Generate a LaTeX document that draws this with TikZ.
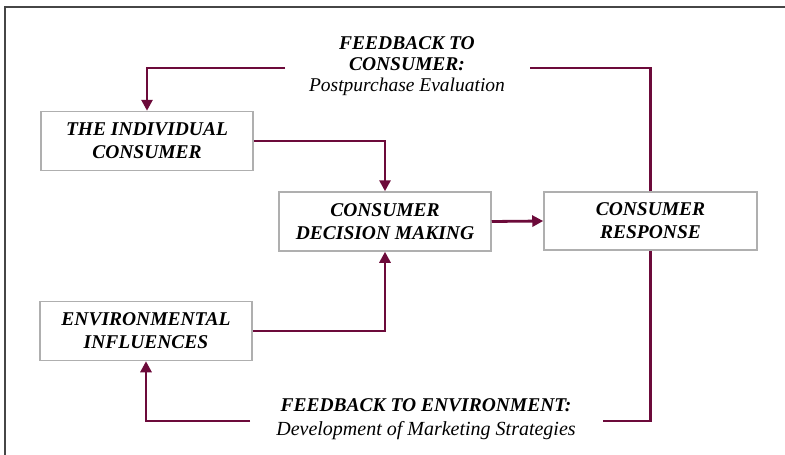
\documentclass[tikz,border=0pt]{standalone}
\usepackage{fontspec}
\setmainfont{Liberation Serif}
\usetikzlibrary{arrows.meta}
\definecolor{flow}{RGB}{108,10,58}
\definecolor{boxline}{RGB}{175,175,175}
\definecolor{frameline}{RGB}{70,70,70}
\begin{document}
\begin{tikzpicture}[x=1pt,y=-1pt,
  stagebox/.style={draw=boxline,line width=1.5pt,fill=white,minimum width=212pt,minimum height=59pt,inner sep=0pt,align=center,
    font=\fontsize{19.5}{23}\selectfont\bfseries\itshape},
  flowline/.style={draw=flow,line width=2.8pt},
  flowarrow/.style={flowline,-{Triangle[length=11pt,width=11pt]}},
  caption/.style={align=center,inner sep=0pt,font=\fontsize{19.5}{21}\selectfont}]
\useasboundingbox (0,0) rectangle (785,455);
\fill[white] (0,0) rectangle (785,455);
% outer frame (top and left edges)
\draw[frameline,line width=1.4pt] (5,460) -- (5,7) -- (790,7);

% stages
\node[stagebox] (indiv) at (147,141) {THE INDIVIDUAL\\CONSUMER};
\node[stagebox] (decide) at (385,221.5) {CONSUMER\\DECISION MAKING};
\node[stagebox,minimum width=213pt,minimum height=58pt] (resp) at (650.5,221) {CONSUMER\\RESPONSE};
\node[stagebox] (env) at (146,331) {ENVIRONMENTAL\\INFLUENCES};

% captions of the feedback loops
\node[caption] (fbcons) at (407,66) {{\bfseries\itshape FEEDBACK TO}\\{\bfseries\itshape CONSUMER:}\\{\fontsize{19.5}{21}\selectfont\itshape Postpurchase Evaluation}};
\node[caption,font=\fontsize{19.5}{24}\selectfont] (fbenv) at (426,419) {{\bfseries\itshape FEEDBACK TO ENVIRONMENT:}\\{\fontsize{20}{24}\selectfont\itshape Development of Marketing Strategies}};

% loose ends of the feedback lines
\coordinate (topR) at (530,68);
\coordinate (topL) at (285,68);
\coordinate (botR) at (603,421);
\coordinate (botL) at (250,421);

% main flow
\draw[flowarrow] (indiv.east) -| (decide.north);
\draw[flowarrow] (env.east) -| (decide.south);
\draw[flowarrow] (decide.east) -- (resp.west);

% feedback to consumer
\draw[flowline] (resp.north) |- (topR);
\draw[flowarrow] (topL) -| (indiv.north);
% feedback to environment
\draw[flowline] (resp.south) |- (botR);
\draw[flowarrow] (botL) -| (env.south);
\end{tikzpicture}
\end{document}
